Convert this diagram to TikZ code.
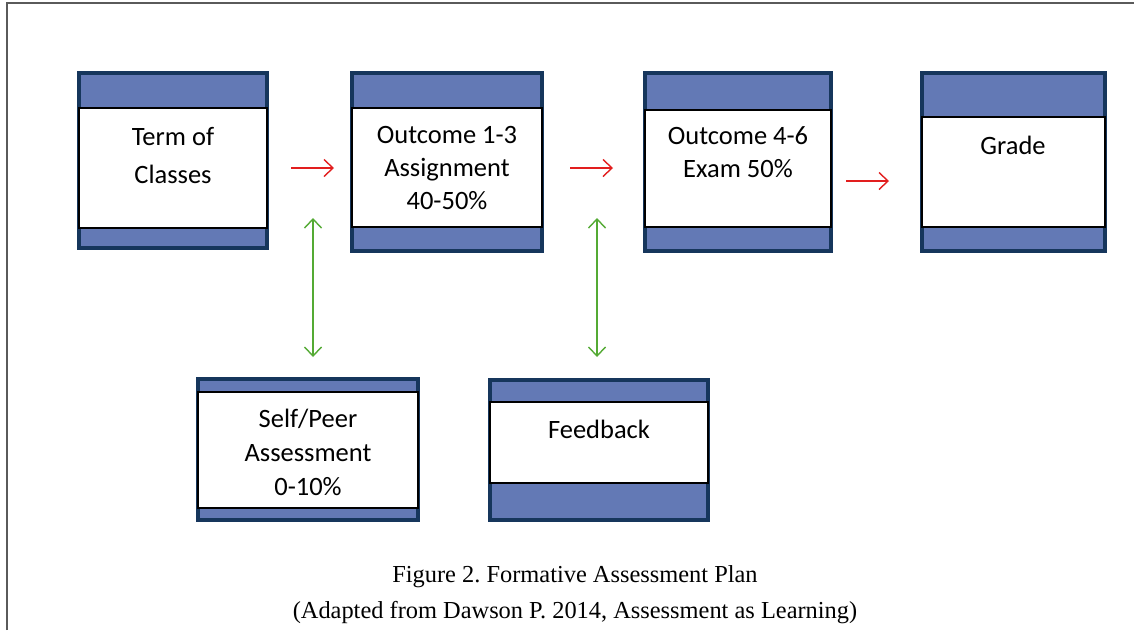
\documentclass[tikz,border=0pt]{standalone}
\usepackage{fontspec}
\setmainfont{Liberation Serif}
\newfontfamily\boxfont{Carlito}
\usetikzlibrary{arrows.meta}
\definecolor{bandblue}{RGB}{99,121,181}
\definecolor{edgeblue}{RGB}{22,54,92}
\definecolor{arrred}{RGB}{226,30,30}
\definecolor{arrgreen}{RGB}{84,170,52}
\definecolor{framegray}{RGB}{90,90,90}
\tikzset{
  outerbox/.style={draw=edgeblue, line width=4pt, fill=bandblue},
  whitebox/.style={draw=black, line width=1.3pt, fill=white},
  boxtext/.style={font=\boxfont\fontsize{26.5}{33}\selectfont, align=center, inner sep=0pt},
  redarrow/.style={draw=arrred, line width=1.4pt, -{Straight Barb[length=9pt,width=17pt,line width=1.4pt]}},
  greenarrow/.style={draw=arrgreen, line width=1.4pt, {Straight Barb[length=9pt,width=17pt,line width=1.4pt]}-{Straight Barb[length=9pt,width=17pt,line width=1.4pt]}},
  captext/.style={font=\fontsize{24.4}{28}\selectfont, inner sep=0pt}
}
\begin{document}
\frenchspacing
\begin{tikzpicture}[x=1pt,y=-1pt]
\useasboundingbox (0,0) rectangle (1134,630);
\fill[white] (0,0) rectangle (1134,630);
\draw[framegray, line width=1.5pt] (7,630) -- (7,3) -- (1134,3);

% Box 1
\draw[outerbox] (79,73) rectangle (267,248);
\node[whitebox, minimum width=188pt, minimum height=120pt, inner sep=0pt] (b1) at (173,168) {};
\node[boxtext, font=\boxfont\fontsize{26.5}{38}\selectfont] (t1) at (173,156) {Term of\\Classes};

% Box 2
\draw[outerbox] (352,73) rectangle (542,251);
\node[whitebox, minimum width=190pt, minimum height=119pt, inner sep=0pt] (b2) at (447,167.5) {};
\node[boxtext] (t2) at (447,168) {Outcome 1-3\\Assignment\\40-50\%};

% Box 3
\draw[outerbox] (645,73) rectangle (831,251);
\node[whitebox, minimum width=186pt, minimum height=117pt, inner sep=0pt] (b3) at (738,168.5) {};
\node[boxtext] (t3) at (738,152) {Outcome 4-6\\Exam 50\%};

% Box 4
\draw[outerbox] (922,73) rectangle (1105,251);
\node[whitebox, minimum width=183pt, minimum height=110pt, inner sep=0pt] (b4) at (1013.5,172) {};
\node[boxtext] (t4) at (1013,145) {Grade};

% Box 5
\draw[outerbox] (198,379) rectangle (418,520);
\node[whitebox, minimum width=220pt, minimum height=116pt, inner sep=0pt] (b5) at (308,450) {};
\node[boxtext, font=\boxfont\fontsize{26.5}{34}\selectfont] (t5) at (308,452) {Self/Peer\\Assessment\\0-10\%};

% Box 6
\draw[outerbox] (490,380) rectangle (708,520);
\node[whitebox, minimum width=218pt, minimum height=81pt, inner sep=0pt] (b6) at (599,442.5) {};
\node[boxtext] (t6) at (599,429) {Feedback};

% Arrows
\coordinate (r1a) at (291,168); \coordinate (r1b) at (334,168);
\coordinate (r2a) at (570,168); \coordinate (r2b) at (613,168);
\coordinate (r3a) at (846,181); \coordinate (r3b) at (889,181);
\draw[redarrow] (r1a) -- (r1b);
\draw[redarrow] (r2a) -- (r2b);
\draw[redarrow] (r3a) -- (r3b);
\coordinate (g1a) at (313,218); \coordinate (g1b) at (313,357);
\coordinate (g2a) at (597,218); \coordinate (g2b) at (597,357);
\draw[greenarrow] (g1a) -- (g1b);
\draw[greenarrow] (g2a) -- (g2b);

% Caption
\node[captext] (c1) at (575,577) {Figure 2. Formative Assessment Plan};
\node[captext] (c2) at (575,613) {(Adapted from Dawson P. 2014, Assessment as Learning)};
\end{tikzpicture}
\end{document}
